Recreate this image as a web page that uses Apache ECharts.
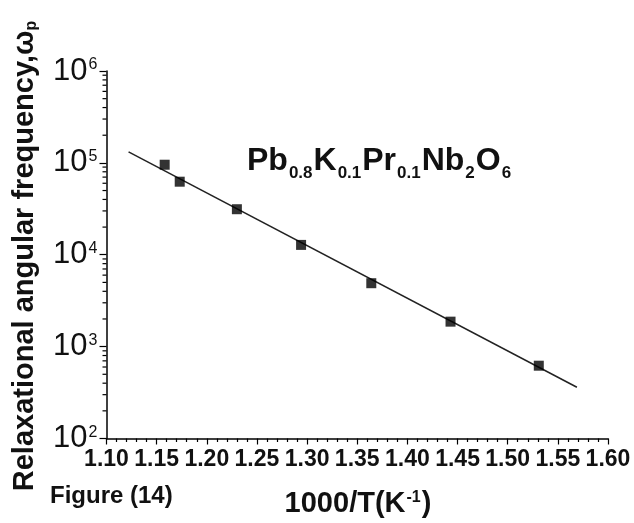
<!DOCTYPE html>
<html>
<head>
<meta charset="utf-8">
<script src="https://cdn.jsdelivr.net/npm/echarts@6/dist/echarts.min.js"></script>
<style>
  html, body { margin: 0; padding: 0; background: #fff; }
  #chart { width: 634px; height: 523px; }
</style>
</head>
<body>
<div id="chart"></div>
<script>
// measured points (1000/T, relaxational angular frequency)
const xVals = [1.158, 1.173, 1.230, 1.294, 1.364, 1.443, 1.531]
const yVals = [95500, 62400, 31300, 12800, 4900, 1870, 620]

// fitted straight line, end points
const fitX = [1.122, 1.569]
const fitY = [132000, 361]

// axis ticks
const xMin = 1.10
const xMax = 1.60
const xStep = 0.05
const yDecades = [100, 1000, 10000, 100000]
const yMinorSteps = [2, 3, 4, 5, 6, 7, 8, 9]

const FONT = '"Liberation Sans", Arial, sans-serif'

const minorY = []
yDecades.forEach(d => yMinorSteps.forEach(m => minorY.push([xMin, d * m])))

const chart = echarts.init(document.getElementById('chart'))

const option = {
  animation: false,
  backgroundColor: '#fff',
  textStyle: { fontFamily: FONT },
  grid: { left: 106.5, right: 26, top: 71, bottom: 84.5 },
  xAxis: {
    type: 'value',
    min: xMin,
    max: xMax,
    interval: xStep,
    splitLine: { show: false },
    axisLine: { onZero: false, lineStyle: { color: '#000', width: 1.5 } },
    axisTick: { length: 6, lineStyle: { color: '#000', width: 1.2 } },
    minorTick: { show: true, splitNumber: 5, length: 3.5, lineStyle: { color: '#000', width: 1.2 } },
    minorSplitLine: { show: false },
    axisLabel: {
      margin: 10,
      color: '#111',
      fontFamily: FONT,
      fontSize: 23,
      fontWeight: 'bold',
      formatter: v => v.toFixed(2)
    }
  },
  yAxis: {
    type: 'log',
    logBase: 10,
    min: 100,
    max: 1000000,
    splitLine: { show: false },
    axisLine: { lineStyle: { color: '#000', width: 1.5 } },
    axisTick: { length: 7, lineStyle: { color: '#000', width: 1.2 } },
    axisLabel: {
      margin: 9,
      color: '#111',
      formatter: v => '{a|10}{b|' + Math.round(Math.log10(v)) + '}',
      rich: {
        a: { fontFamily: FONT, fontSize: 31, color: '#111' },
        b: { fontFamily: FONT, fontSize: 16, color: '#111', padding: [0, 0, 12, 1] }
      }
    }
  },
  graphic: [
    {
      type: 'text',
      x: 25,
      y: 256,
      rotation: Math.PI / 2,
      style: {
        text: 'Relaxational angular frequency,ω{s|p}',
        fontFamily: FONT,
        fontSize: 29,
        fontWeight: 'bold',
        fill: '#111',
        align: 'center',
        verticalAlign: 'middle',
        rich: {
          s: { fontFamily: FONT, fontSize: 16, fontWeight: 'bold', fill: '#111', padding: [14, 0, 0, 0] }
        }
      }
    },
    {
      type: 'text',
      x: 50,
      y: 496,
      style: {
        text: 'Figure (14)',
        fontFamily: FONT,
        fontSize: 24,
        fontWeight: 'bold',
        fill: '#111',
        align: 'left',
        verticalAlign: 'middle'
      }
    },
    {
      type: 'text',
      x: 358,
      y: 504,
      style: {
        text: '{m|1000/T(K}{u|-1}{m|)}',
        align: 'center',
        verticalAlign: 'middle',
        rich: {
          m: { fontFamily: FONT, fontSize: 29, fontWeight: 'bold', fill: '#111' },
          u: { fontFamily: FONT, fontSize: 16, fontWeight: 'bold', fill: '#111', padding: [0, 1, 13, 1] }
        }
      }
    },
    {
      type: 'text',
      x: 247,
      y: 161,
      style: {
        text: '{m|Pb}{s|0.8}{m|K}{s|0.1}{m|Pr}{s|0.1}{m|Nb}{s|2}{m|O}{s|6}',
        align: 'left',
        verticalAlign: 'middle',
        rich: {
          m: { fontFamily: FONT, fontSize: 32, fontWeight: 'bold', fill: '#111' },
          s: { fontFamily: FONT, fontSize: 17, fontWeight: 'bold', fill: '#111', padding: [24, 1, 0, 1] }
        }
      }
    }
  ],
  series: [
    {
      name: 'fit',
      type: 'line',
      data: fitX.map((x, i) => [x, fitY[i]]),
      symbol: 'none',
      lineStyle: { color: '#222', width: 1.5 },
      z: 2
    },
    {
      name: 'data',
      type: 'scatter',
      data: xVals.map((x, i) => [x, yVals[i]]),
      symbol: 'rect',
      symbolSize: 10,
      itemStyle: { color: '#000' },
      z: 3
    },
    {
      name: 'minorTicks',
      type: 'custom',
      data: minorY,
      silent: true,
      renderItem: (params, api) => {
        const pt = api.coord([api.value(0), api.value(1)])
        return {
          type: 'line',
          shape: { x1: pt[0] - 4, y1: pt[1], x2: pt[0], y2: pt[1] },
          style: { stroke: '#000', lineWidth: 1.2 }
        }
      },
      z: 1
    }
  ]
}

chart.setOption(option)
</script>
</body>
</html>
